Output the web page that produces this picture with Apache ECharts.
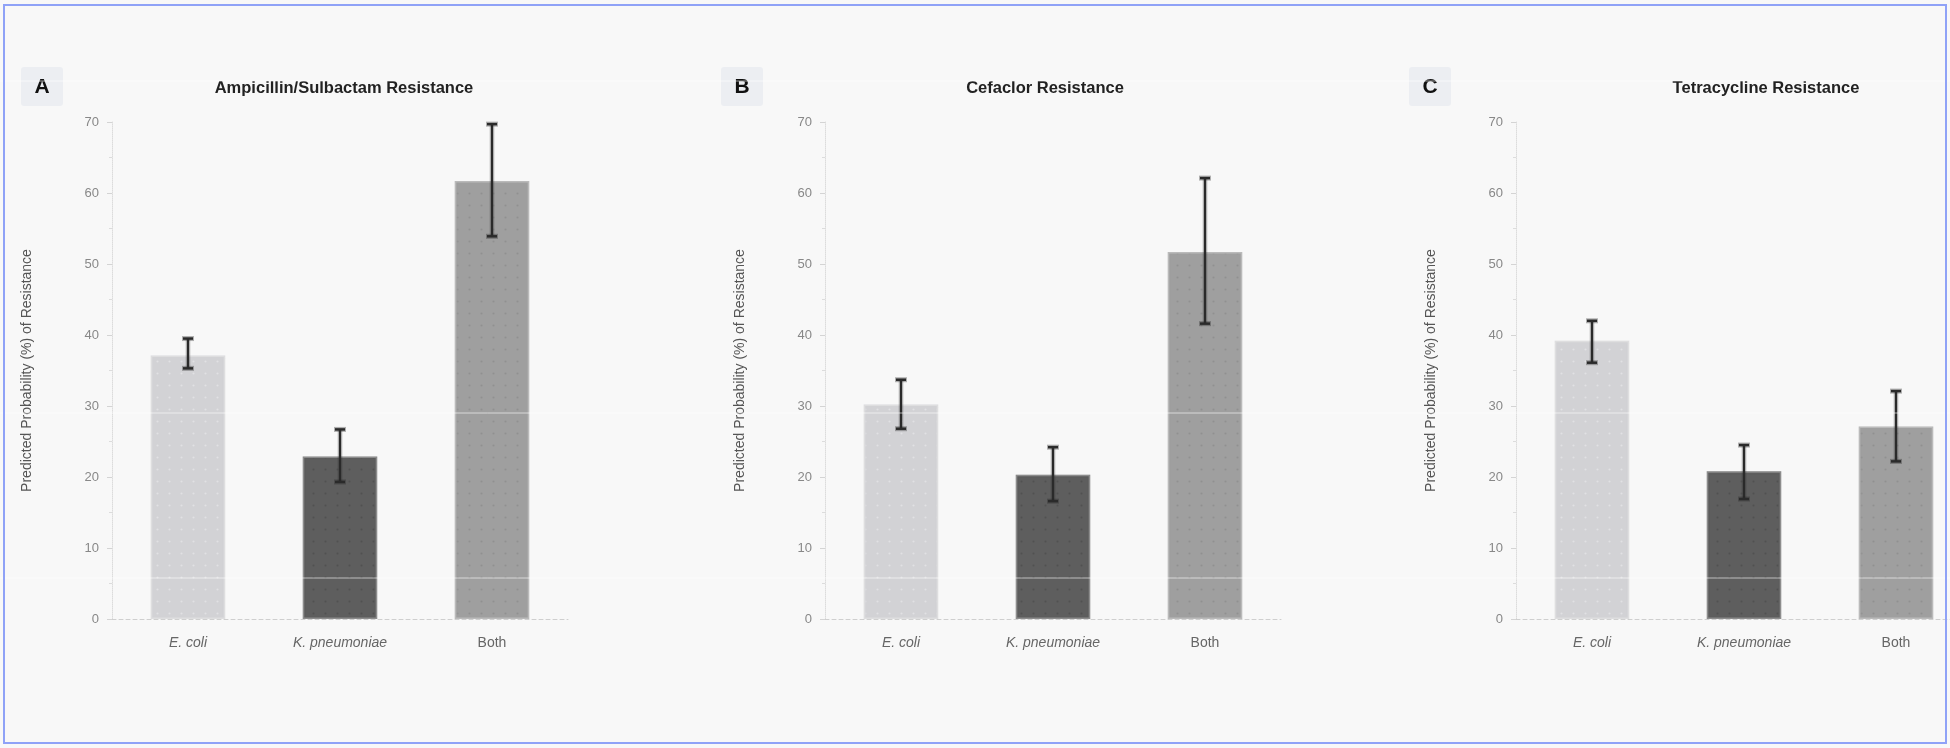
<!DOCTYPE html>
<html>
<head>
<meta charset="utf-8">
<script src="https://cdn.jsdelivr.net/npm/echarts@6/dist/echarts.min.js"></script>
<style>
  html, body { margin: 0; padding: 0; background: #ffffff; overflow: hidden; }
  #wrap { position: absolute; left: 0; top: 0; width: 1950px; height: 748px; overflow: hidden; background: #f8f8f8; }
  #chart { position: absolute; left: 0; top: 0; width: 2100px; height: 748px; }
  #frame { position: absolute; left: 3px; top: 4px; width: 1940px; height: 736px; border: 2px solid #8fa2f7; pointer-events: none; }
</style>
</head>
<body>
<div id="wrap"><div id="chart"></div></div>
<div id="frame"></div>
<script>
// ---- data ----
const categories = ['E. coli', 'K. pneumoniae', 'Both'];
const italicCats = ['E. coli', 'K. pneumoniae'];
const panelLetters = ['A', 'B', 'C'];
const panelTitles = ['Ampicillin/Sulbactam Resistance', 'Cefaclor Resistance', 'Tetracycline Resistance'];
const yAxisName = 'Predicted Probability (%) of Resistance';
const yTicks = [0, 10, 20, 30, 40, 50, 60, 70];

const ampValues = [37.1, 22.9, 61.7];
const ampLow    = [35.3, 19.3, 53.9];
const ampHigh   = [39.5, 26.7, 69.7];

const cefValues = [30.2, 20.3, 51.7];
const cefLow    = [26.8, 16.6, 41.6];
const cefHigh   = [33.7, 24.2, 62.1];

const tetValues = [39.2, 20.8, 27.1];
const tetLow    = [36.1, 16.9, 22.2];
const tetHigh   = [42.0, 24.5, 32.1];

const barColors = ['#d2d2d5', '#5e5e5e', '#9f9f9f'];
const barBorders = ['rgba(210,210,213,0.45)', 'rgba(94,94,94,0.45)', 'rgba(159,159,159,0.45)'];
const dotColors = ['rgba(255,255,255,0.35)', 'rgba(0,0,0,0.13)', 'rgba(0,0,0,0.09)'];

const panels = [
  { values: ampValues, low: ampLow, high: ampHigh },
  { values: cefValues, low: cefLow, high: cefHigh },
  { values: tetValues, low: tetLow, high: tetHigh }
];

// ---- layout (pixels) ----
const gridLefts = [112, 825, 1516];
const gridWidth = 456;
const gridTop = 122;
const gridHeight = 497;
const titleCenters = [344, 1045, 1766];
const boxLefts = [21, 721, 1409];
const sheenRows = [81, 413, 578];

const FONT = "'Liberation Sans', Arial, Helvetica, sans-serif";

function renderErr(params, api) {
  const x = api.value(0), lo = api.value(1), hi = api.value(2);
  const t = api.coord([x, hi]);
  const b = api.coord([x, lo]);
  const cap = 6;
  const dark = '#2a2a2a';
  const halo = 'rgba(40,40,40,0.35)';
  return {
    type: 'group',
    children: [
      { type: 'line', shape: { x1: t[0], y1: t[1], x2: b[0], y2: b[1] }, style: { stroke: halo, lineWidth: 4.5 } },
      { type: 'line', shape: { x1: t[0], y1: t[1], x2: b[0], y2: b[1] }, style: { stroke: dark, lineWidth: 2 } },
      { type: 'line', shape: { x1: t[0] - cap, y1: t[1], x2: t[0] + cap, y2: t[1] }, style: { stroke: halo, lineWidth: 5 } },
      { type: 'line', shape: { x1: t[0] - cap + 1, y1: t[1], x2: t[0] + cap - 1, y2: t[1] }, style: { stroke: dark, lineWidth: 2.5 } },
      { type: 'line', shape: { x1: b[0] - cap, y1: b[1], x2: b[0] + cap, y2: b[1] }, style: { stroke: halo, lineWidth: 5 } },
      { type: 'line', shape: { x1: b[0] - cap + 1, y1: b[1], x2: b[0] + cap - 1, y2: b[1] }, style: { stroke: dark, lineWidth: 2.5 } }
    ]
  };
}

const grid = [], xAxis = [], yAxis = [], series = [], title = [], graphic = [];

panels.forEach((p, i) => {
  grid.push({ left: gridLefts[i], top: gridTop, width: gridWidth, height: gridHeight, containLabel: false });
  xAxis.push({
    type: 'category', gridIndex: i, data: categories,
    axisLine: { show: true, lineStyle: { color: '#cfcfcf', type: [4, 3], width: 1 } },
    axisTick: { show: false },
    axisLabel: {
      margin: 17, fontSize: 14, color: '#666', fontFamily: FONT,
      formatter: v => italicCats.indexOf(v) >= 0 ? '{i|' + v + '}' : v,
      rich: { i: { fontStyle: 'italic', fontSize: 14, color: '#666', fontFamily: FONT } }
    }
  });
  yAxis.push({
    type: 'value', gridIndex: i, min: yTicks[0], max: yTicks[yTicks.length - 1], interval: 10,
    name: yAxisName, nameLocation: 'middle', nameGap: 78,
    nameTextStyle: { fontSize: 14, color: '#555', fontFamily: FONT },
    axisLine: { show: true, lineStyle: { color: '#dcdcdc', type: 'dotted', width: 1 } },
    axisTick: { show: true, length: 5, lineStyle: { color: '#d4d4d4' } },
    minorTick: { show: true, splitNumber: 2, length: 3, lineStyle: { color: '#dcdcdc' } },
    splitLine: { show: false },
    axisLabel: { margin: 13, fontSize: 13, color: '#888', fontFamily: FONT }
  });
  series.push({
    type: 'bar', xAxisIndex: i, yAxisIndex: i, barWidth: '49%',
    data: p.values.map((v, k) => ({
      value: v,
      itemStyle: {
        color: barColors[k], borderColor: barBorders[k], borderWidth: 3,
        decal: { symbol: 'circle', symbolSize: 0.7, dashArrayX: [3, 9], dashArrayY: [3, 9], color: dotColors[k] }
      }
    })),
    z: 2
  });
  series.push({
    type: 'custom', xAxisIndex: i, yAxisIndex: i,
    data: p.values.map((v, k) => [k, p.low[k], p.high[k]]),
    renderItem: renderErr,
    encode: { x: 0, y: [1, 2] },
    z: 5
  });
  title.push({
    text: panelTitles[i], left: titleCenters[i], top: 80, textAlign: 'center', padding: 0,
    textStyle: { fontSize: 16.5, fontWeight: 'bold', color: '#222', fontFamily: FONT }
  });
  graphic.push({
    type: 'group', left: boxLefts[i], top: 67,
    children: [
      { type: 'rect', shape: { x: 0, y: 0, width: 42, height: 39, r: 3 }, style: { fill: '#eceef2' } },
      { type: 'text', x: 21, y: 20, style: { text: panelLetters[i], fill: '#111', font: 'bold 21px ' + FONT, textAlign: 'center', textVerticalAlign: 'middle' } }
    ]
  });
});

// faint light streaks that run across the whole reference picture
sheenRows.forEach(y => {
  graphic.push({
    type: 'line', z: 100, silent: true,
    shape: { x1: 0, y1: y, x2: 1950, y2: y },
    style: { stroke: 'rgba(255,255,255,0.6)', lineWidth: 1 }
  });
});

const chart = echarts.init(document.getElementById('chart'), null, { renderer: 'canvas' });
chart.setOption({
  backgroundColor: '#f8f8f8',
  animation: false,
  textStyle: { fontFamily: FONT },
  title, grid, xAxis, yAxis, series, graphic
});
</script>
</body>
</html>
